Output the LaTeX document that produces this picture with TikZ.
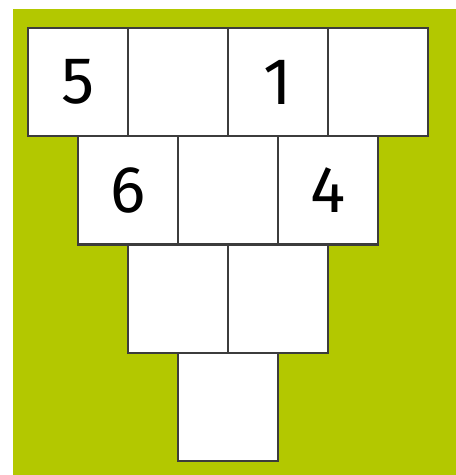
\documentclass[tikz,border=0pt]{standalone}
\usepackage{fontspec}
\setmainfont{Fira Sans}
\usetikzlibrary{positioning}

\definecolor{leaf}{RGB}{179,200,0}
\definecolor{edge}{RGB}{60,60,60}

\tikzset{
    cell/.style={draw=edge, line width=2.4pt, fill=white, minimum width=100pt,
        minimum height=108.25pt, inner sep=0pt, outer sep=0pt, font=\fontsize{66}{66}\selectfont},
}

\begin{document}
\begin{tikzpicture}[x=1pt, y=-1pt]

    % Canvas and green background
    \useasboundingbox (0,0) rectangle (456,475);
    \fill[leaf] (13,9) rectangle (456,475);

    % Top row
    \node[cell] (r1a) at (78,82.1)  {5};
    \node[cell, right=0pt of r1a] (r1b) {};
    \node[cell, right=0pt of r1b] (r1c) {1};
    \node[cell, right=0pt of r1c] (r1d) {};

    % Second row
    \node[cell] (r2a) at (128,190.4) {6};
    \node[cell, right=0pt of r2a] (r2b) {};
    \node[cell, right=0pt of r2b] (r2c) {4};

    % Third row
    \node[cell] (r3a) at (178,298.6) {};
    \node[cell, right=0pt of r3a] (r3b) {};

    % Bottom cell
    \node[cell] (r4a) at (228,406.9) {};

\end{tikzpicture}
\end{document}
